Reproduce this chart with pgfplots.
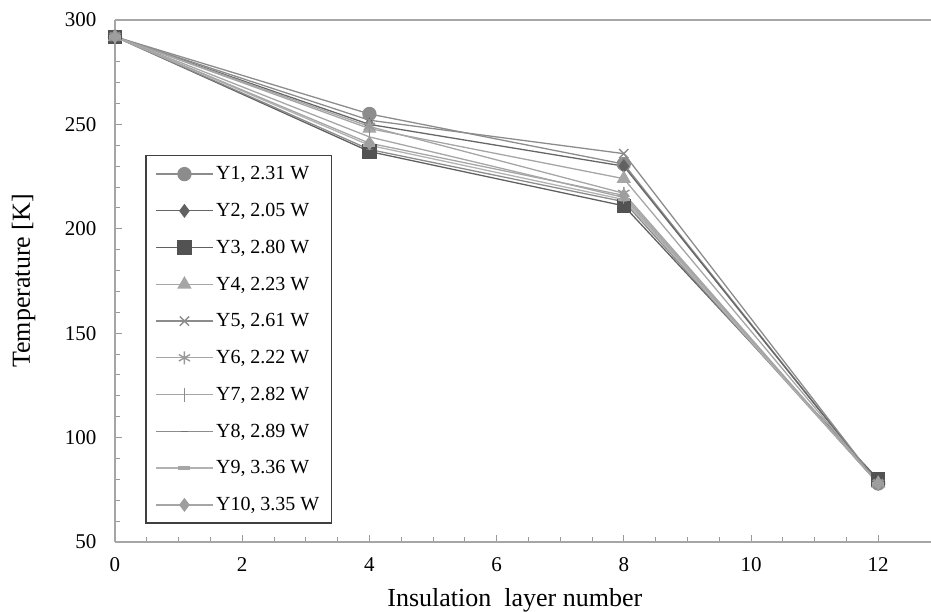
\documentclass[border=0pt]{standalone}
\usepackage{fontspec}
\setmainfont{Liberation Serif}
\usepackage{pgfplots}
\pgfplotsset{compat=1.18}

\begin{document}
\begin{tikzpicture}
\begin{axis}[
    scale only axis, width=816bp, height=522bp,
    xmin=0, xmax=12.83, ymin=50, ymax=300,
    axis x line*=box, axis y line*=left,
    xtick={0,2,...,12}, ytick={50,100,...,300},
    minor x tick num=3, minor y tick num=4,
    tick align=inside, xtick pos=bottom, ytick pos=left,
    major tick length=7bp, minor tick length=5bp,
    axis line style={black!35, line width=1.2bp},
    tick style={black!40, line width=1bp},
    /pgf/number format/assume math mode=true,
    ticklabel style={font=\fontsize{21bp}{24bp}\selectfont},
    yticklabel style={xshift=-15bp},
    xticklabel style={yshift=-12bp},
    xlabel={Insulation\ \ layer number},
    ylabel={Temperature\ [K]},
    xlabel style={at={(axis description cs:0.49,-0.111)}, anchor=center, font=\fontsize{26bp}{29bp}\selectfont},
    ylabel style={at={(axis description cs:-0.112,0.5)}, anchor=center, font=\fontsize{26bp}{29bp}\selectfont},
    legend style={at={(axis description cs:0.0368,0.0345)}, anchor=south west,
        draw=black!75, line width=1.5bp, font=\fontsize{20bp}{23bp}\selectfont,
        row sep=18bp, inner xsep=10bp, inner ysep=9bp,
        nodes={line width=0.5bp}},
    legend cell align=left,
    legend image code/.code={\draw[mark repeat=2,mark phase=2,#1] plot coordinates {(0bp,0bp)(28bp,0bp)(57bp,0bp)};},
    every axis plot/.append style={line width=1.3bp},
]
\addplot[black!45, mark=*, mark size=6.5bp, mark options={fill=black!45, draw=black!45}] coordinates {(0,292) (4,255) (8,231) (12,78)};
\addlegendentry{Y1, 2.31 W}
\addplot[black!60, mark=diamond*, mark size=6bp, mark options={fill=black!62, draw=black!62}] coordinates {(0,292) (4,250) (8,230) (12,78)};
\addlegendentry{Y2, 2.05 W}
\addplot[black!62, mark=square*, mark size=6.5bp, mark options={fill=black!68, draw=black!68}] coordinates {(0,292) (4,237) (8,211) (12,80)};
\addlegendentry{Y3, 2.80 W}
\addplot[black!35, mark=triangle*, mark size=7bp, mark options={fill=black!35, draw=black!35}] coordinates {(0,292) (4,248) (8,224) (12,78)};
\addlegendentry{Y4, 2.23 W}
\addplot[black!45, mark=x, mark size=6.5bp, mark options={draw=black!45, line width=1.4bp}] coordinates {(0,292) (4,252) (8,236) (12,78)};
\addlegendentry{Y5, 2.61 W}
\addplot[black!35, mark=asterisk, mark size=6.5bp, mark options={draw=black!40, line width=1.4bp}] coordinates {(0,292) (4,249) (8,217) (12,78)};
\addlegendentry{Y6, 2.22 W}
\addplot[black!35, mark=|, mark size=7bp, mark options={draw=black!45, line width=1.2bp}] coordinates {(0,292) (4,244) (8,215) (12,78)};
\addlegendentry{Y7, 2.82 W}
\addplot[black!45, mark=-, mark size=3.5bp, mark options={draw=black!55, line width=1.6bp}] coordinates {(0,292) (4,238) (8,213) (12,78)};
\addlegendentry{Y8, 2.89 W}
\addplot[black!30, mark=-, mark size=6bp, mark options={draw=black!35, line width=3.5bp}] coordinates {(0,292) (4,240) (8,214) (12,78)};
\addlegendentry{Y9, 3.36 W}
\addplot[black!35, mark=diamond*, mark size=6bp, mark options={fill=black!38, draw=black!38}] coordinates {(0,292) (4,241) (8,216) (12,78)};
\addlegendentry{Y10, 3.35 W}
\end{axis}
\pgfresetboundingbox
\path[use as bounding box] ([shift={(-115bp,-70bp)}]current axis.south west) rectangle ([shift={(0bp,20bp)}]current axis.north east);
\end{tikzpicture}
\end{document}
